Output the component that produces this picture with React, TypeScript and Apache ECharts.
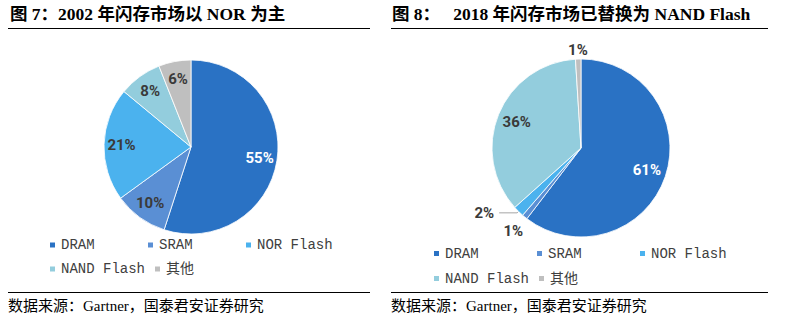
import React, { useEffect, useRef } from "react";
import * as echarts from "echarts";

const categories = ["DRAM", "SRAM", "NOR Flash", "NAND Flash", "其他"];
const share2002 = [55, 10, 21, 8, 6];
const share2018 = [61, 1, 2, 36, 1];
const colors = ["#2A72C4", "#5A8FD4", "#4BB2EE", "#93CDDD", "#BFBFBF"];
const title2002 = "图 7：2002 年闪存市场以 NOR 为主";
const title2018 = "图 8：   2018 年闪存市场已替换为 NAND Flash";
const sourceText = "数据来源：Gartner，国泰君安证券研究";

const LABEL_FONT = "'Liberation Sans Narrow', Roboto, sans-serif";
const TITLE_FONT = "'Liberation Serif', 'Times New Roman', 'Noto Sans CJK SC', serif";
const LEGEND_FONT = "'Liberation Mono', 'DejaVu Sans Mono', 'Noto Sans CJK SC', monospace";

export default function App() {
  const ref = useRef<HTMLDivElement>(null);
  useEffect(() => {
    if (!ref.current) return;
    const chart = echarts.init(ref.current, undefined, { renderer: "svg" });

    const labelBase = {
      fontFamily: LABEL_FONT,
      fontWeight: "bold" as const,
      fontSize: 15,
      color: "#3A3A3A",
    };

    const mainData = (vals: number[], withOutside: boolean) =>
      vals.map((v, i) => {
        const item: any = { name: categories[i], value: v, itemStyle: { color: colors[i] } };
        if (withOutside && v < 5) {
          const isLine = i === 2;
          item.label = {
            show: true,
            position: "outside",
            distanceToLabelLine: isLine ? 5 : 0,
          };
          item.labelLine = {
            show: isLine,
            length: isLine ? 2 : i === 1 ? 18 : 9,
            length2: isLine ? 18 : 0,
            lineStyle: { color: "#A6A6A6", width: 1 },
          };
        }
        return item;
      });

    const overlayData = (vals: number[], onlyBig: boolean) =>
      vals.map((v, i) => ({
        name: categories[i],
        value: v,
        itemStyle: { color: "rgba(0,0,0,0)", borderWidth: 0 },
        label: {
          show: !onlyBig || v >= 5,
          color: i === 0 ? "#FFFFFF" : "#3A3A3A",
        },
      }));

    const legendCommon = {
      orient: "horizontal" as const,
      padding: 0,
      icon: "rect",
      itemWidth: 7,
      itemHeight: 7,
      itemGap: 8,
      data: categories,
      selectedMode: false as const,
    };

    chart.setOption({
      animation: false,
      color: colors,
      legend: [
        {
          ...legendCommon,
          left: 48,
          top: 237,
          width: 300,
          textStyle: { fontFamily: LEGEND_FONT, fontSize: 14, color: "#404040", width: 77, lineHeight: 16 },
        },
        {
          ...legendCommon,
          left: 432,
          top: 245,
          width: 320,
          itemGap: 8,
          textStyle: { fontFamily: LEGEND_FONT, fontSize: 14, color: "#404040", width: 82, lineHeight: 17 },
        },
      ],
      series: [
        {
          type: "pie",
          center: [191, 147],
          radius: [0, 87],
          startAngle: 90,
          clockwise: true,
          avoidLabelOverlap: false,
          itemStyle: { borderColor: "#FFFFFF", borderWidth: 0.8 },
          label: { show: false },
          labelLine: { show: false },
          data: mainData(share2002, false),
        },
        {
          type: "pie",
          center: [581, 148],
          radius: [0, 89],
          startAngle: 90,
          clockwise: true,
          avoidLabelOverlap: false,
          itemStyle: { borderColor: "#FFFFFF", borderWidth: 0.8 },
          label: { show: false, ...labelBase, formatter: "{c}%" },
          labelLine: { show: false },
          labelLayout: (p: any) =>
            p.dataIndex === 1 || p.dataIndex === 4 ? { align: "center" } : {},
          data: mainData(share2018, true),
        },
        {
          type: "pie",
          center: [191, 147],
          radius: [46, 87],
          startAngle: 90,
          clockwise: true,
          silent: true,
          legendHoverLink: false,
          avoidLabelOverlap: false,
          label: { show: true, position: "inside", ...labelBase, formatter: "{c}%" },
          labelLine: { show: false },
          data: overlayData(share2002, false),
        },
        {
          type: "pie",
          center: [581, 148],
          radius: [44, 89],
          startAngle: 90,
          clockwise: true,
          silent: true,
          legendHoverLink: false,
          avoidLabelOverlap: false,
          label: { show: true, position: "inside", ...labelBase, formatter: "{c}%" },
          labelLine: { show: false },
          data: overlayData(share2018, true),
        },
      ],
      graphic: [
        {
          type: "text",
          left: 10,
          top: 5,
          style: { text: title2002, fontFamily: TITLE_FONT, fontSize: 17.5, fontWeight: "bold", fill: "#000" },
        },
        {
          type: "text",
          left: 392,
          top: 5,
          style: { text: title2018, fontFamily: TITLE_FONT, fontSize: 17.5, fontWeight: "bold", fill: "#000" },
        },
        { type: "line", shape: { x1: 8, y1: 28.5, x2: 370, y2: 28.5 }, style: { stroke: "#000", lineWidth: 1 } },
        { type: "line", shape: { x1: 391, y1: 28.5, x2: 768, y2: 28.5 }, style: { stroke: "#000", lineWidth: 1 } },
        { type: "line", shape: { x1: 8, y1: 292.5, x2: 370, y2: 292.5 }, style: { stroke: "#000", lineWidth: 1 } },
        { type: "line", shape: { x1: 391, y1: 292.5, x2: 768, y2: 292.5 }, style: { stroke: "#000", lineWidth: 1 } },
        {
          type: "text",
          left: 8,
          top: 298,
          style: { text: sourceText, fontFamily: TITLE_FONT, fontSize: 15, fill: "#000" },
        },
        {
          type: "text",
          left: 391,
          top: 298,
          style: { text: sourceText, fontFamily: TITLE_FONT, fontSize: 15, fill: "#000" },
        },
      ],
    });
    return () => chart.dispose();
  }, []);
  return <div ref={ref} style={{ position: "absolute", left: 0, top: 0, width: 794, height: 322, background: "#fff" }} />;
}
